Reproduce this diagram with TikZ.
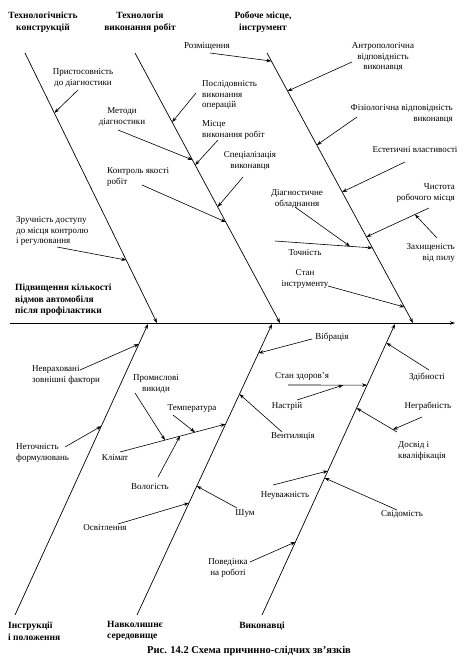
\documentclass[tikz,border=0pt]{standalone}
\usepackage{fontspec}
\setmainfont{Liberation Serif}
\usetikzlibrary{calc,arrows.meta}
\begin{document}
\begin{tikzpicture}[x=1pt,y=-1pt,
  lbl/.style={inner sep=0pt, font=\fontsize{9}{10.5}\selectfont, align=center},
  lbll/.style={lbl, align=left, anchor=west},
  lblr/.style={lbl, align=right, anchor=east},
  hd/.style={inner sep=0pt, font=\bfseries\fontsize{9.5}{11.5}\selectfont, align=center},
  bone/.style={line width=0.7pt, -{Stealth[length=5pt,width=3.5pt]}},
  arr/.style={line width=0.6pt, -{Stealth[length=5pt,width=3.5pt]}},
]
\useasboundingbox (0,0) rectangle (465,660);
% spine
\coordinate (spL) at (10,323);
\coordinate (spR) at (455,323);
\draw[bone] (spL) -- (spR);
% bones
\coordinate (b1s) at (25,53);  \coordinate (b1e) at (157,323);
\coordinate (b2s) at (135,53); \coordinate (b2e) at (280,323);
\coordinate (b3s) at (267,53); \coordinate (b3e) at (413,323);
\coordinate (b4s) at (15,615); \coordinate (b4e) at (148,324);
\coordinate (b5s) at (137,615);\coordinate (b5e) at (272,324);
\coordinate (b6s) at (262,615);\coordinate (b6e) at (395,324);
\draw[bone] (b1s) -- (b1e);
\draw[bone] (b2s) -- (b2e);
\draw[bone] (b3s) -- (b3e);
\draw[bone] (b4s) -- (b4e);
\draw[bone] (b5s) -- (b5e);
\draw[bone] (b6s) -- (b6e);
% headings
\node[hd] (h1) at (43,22) {Технологічність\\конструкцій};
\node[hd] (h2) at (140,22) {Технологія\\виконання робіт};
\node[hd] (h3) at (263,22) {Робоче місце,\\інструмент};
\node[hd, align=left, anchor=west] (h4) at (8,631) {Інструкції\\і положення};
\node[hd, align=left, anchor=west] (h5) at (107,631) {Навколишнє\\середовище};
\node[hd] (h6) at (262,626) {Виконавці};
\node[hd, font=\bfseries\fontsize{10.5}{12}\selectfont] (cap) at (249,651) {Рис. 14.2 Схема причинно-слідчих зв'язків};
\node[hd, align=left, anchor=west] (eff) at (15,300) {Підвищення кількості\\відмов автомобіля\\після профілактики};
% upper labels
\node[lbl] (l1) at (83,78) {Пристосовність\\до діагностики};
\node[lbll] (l2) at (16,231) {Зручність доступу\\до місця контролю\\і регулювання};
\node[lbl] (l3) at (207,46) {Розміщення};
\node[lbll] (l4) at (202,95) {Послідовність\\виконання\\операцій};
\node[lbl] (l5) at (122,117) {Методи\\діагностики};
\node[lbll] (l6) at (202,130) {Місце\\виконання робіт};
\node[lbl] (l7) at (250,161) {Спеціалізація\\виконавця};
\node[lbll] (l8) at (107,177) {Контроль якості\\робіт};
\node[lbl] (l9) at (383,57) {Антропологічна\\відповідність\\виконавця};
\node[lblr] (l10) at (453,114) {Фізіологічна відповідність\\виконавця};
\node[lbl] (l11) at (415,150) {Естетичні властивості};
\node[lblr] (l12) at (455,193) {Чистота\\робочого місця};
\node[lblr] (l13) at (455,253) {Захищеність\\від пилу};
\node[lbl] (l14) at (305,253) {Точність};
\node[lbl] (l15) at (297,199) {Діагностичне\\обладнання};
\node[lbl] (l16) at (305,279) {Стан\\інструменту};
% lower labels
\node[lbll] (l17) at (32,375) {Невраховані\\зовнішні фактори};
\node[lbll] (l18) at (16,453) {Неточність\\формулювань};
\node[lbl] (l19) at (332,337) {Вібрація};
\node[lbl] (l20) at (293,436) {Вентиляція};
\node[lbl] (l21) at (115,458) {Клімат};
\node[lbl] (l22) at (156,384) {Промислові\\викиди};
\node[lbl] (l23) at (192,409) {Температура};
\node[lbl] (l24) at (150,487) {Вологість};
\node[lbl] (l25) at (105,528) {Освітлення};
\node[lbl] (l26) at (245,514) {Шум};
\node[lbl] (l27) at (427,377) {Здібності};
\node[lbl] (l28) at (302,376) {Стан здоров'я};
\node[lbl] (l29) at (287,406) {Настрій};
\node[lbll] (l30) at (398,451) {Досвід і\\кваліфікація};
\node[lbl] (l31) at (428,406) {Неграбність};
\node[lbl] (l32) at (285,495) {Неуважність};
\node[lbl] (l33) at (402,514) {Свідомість};
\node[lbl] (l34) at (228,568) {Поведінка\\на роботі};
% arrow starts
\coordinate (s1) at (78,90);
\coordinate (s2) at (57,247);
\coordinate (s3) at (210,53);
\coordinate (s4) at (196,93);
\coordinate (s5) at (118,130);
\coordinate (s6) at (218,140);
\coordinate (s7) at (243,177);
\coordinate (s8) at (142,185);
\coordinate (s9) at (352,62);
\coordinate (s10) at (357,117);
\coordinate (s11) at (405,162);
\coordinate (s12) at (429,208);
\coordinate (s13) at (437,238);
\coordinate (s14) at (275,241);
\coordinate (s15) at (295,207);
\coordinate (s16) at (328,286);
\coordinate (s17) at (80,370);
\coordinate (s18) at (65,447);
\coordinate (s19) at (312,339);
\coordinate (s20) at (282,432);
\coordinate (s21) at (120,452);
\coordinate (s22) at (135,393);
\coordinate (s23) at (173,415);
\coordinate (s24) at (158,477);
\coordinate (s25) at (118,524);
\coordinate (s26) at (237,508);
\coordinate (s27) at (429,370);
\coordinate (s28) at (288,385);
\coordinate (s29) at (297,400);
\coordinate (s30) at (397,432);
\coordinate (s31) at (422,417);
\coordinate (s32) at (273,485);
\coordinate (s33) at (397,510);
\coordinate (s34) at (250,562);
% targets
\coordinate (t1) at ($(b1s)!0.222!(b1e)$);
\coordinate (t2) at ($(b1s)!0.767!(b1e)$);
\coordinate (t3) at ($(b3s)!0.030!(b3e)$);
\coordinate (t4) at ($(b2s)!0.256!(b2e)$);
\coordinate (t5) at ($(b2s)!0.396!(b2e)$);
\coordinate (t6) at ($(b2s)!0.415!(b2e)$);
\coordinate (t7) at ($(b2s)!0.570!(b2e)$);
\coordinate (t8) at ($(b2s)!0.626!(b2e)$);
\coordinate (t9) at ($(b3s)!0.141!(b3e)$);
\coordinate (t10) at ($(b3s)!0.341!(b3e)$);
\coordinate (t11) at ($(b3s)!0.515!(b3e)$);
\coordinate (t12) at ($(b3s)!0.681!(b3e)$);
\coordinate (t13) at ($(s12)!0.224!(t12)$);
\coordinate (t14) at ($(b3s)!0.722!(b3e)$);
\coordinate (t15) at ($(s14)!0.77!(t14)$);
\coordinate (t16) at ($(b3s)!0.941!(b3e)$);
\coordinate (t17) at ($(b4s)!0.931!(b4e)$);
\coordinate (t18) at ($(b4s)!0.649!(b4e)$);
\coordinate (t19) at ($(b5s)!0.900!(b5e)$);
\coordinate (t20) at ($(b5s)!0.759!(b5e)$);
\coordinate (t21) at ($(b5s)!0.656!(b5e)$);
\coordinate (t22) at ($(s21)!0.426!(t21)$);
\coordinate (t23) at ($(s21)!0.71!(t21)$);
\coordinate (t24) at ($(s21)!0.568!(t21)$);
\coordinate (t25) at ($(b5s)!0.385!(b5e)$);
\coordinate (t26) at ($(b5s)!0.443!(b5e)$);
\coordinate (t27) at ($(b6s)!0.935!(b6e)$);
\coordinate (t28) at ($(b6s)!0.790!(b6e)$);
\coordinate (t29) at ($(s28)!0.70!(t28)$);
\coordinate (t30) at ($(b6s)!0.711!(b6e)$);
\coordinate (t31) at ($(s30)!0.1!(t30)$);
\coordinate (t32) at ($(b6s)!0.495!(b6e)$);
\coordinate (t33) at ($(b6s)!0.471!(b6e)$);
\coordinate (t34) at ($(b6s)!0.251!(b6e)$);
% arrows
\foreach \i in {1,...,34} {\draw[arr] (s\i) -- (t\i);}
\end{tikzpicture}
\end{document}
